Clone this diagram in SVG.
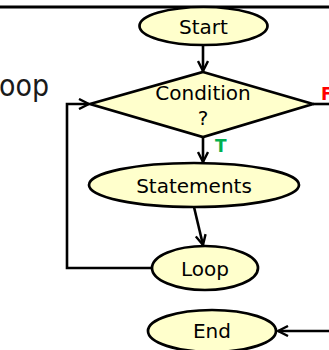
<svg xmlns="http://www.w3.org/2000/svg" width="329" height="350" viewBox="0 0 329 350">
  <style>
    .node { fill: #FFFFCC; stroke: #000; stroke-width: 2.7; }
    .label { font-family: "DejaVu Sans", "Noto Sans", sans-serif; font-size: 20px; fill: #000; text-anchor: middle; }
    .edge { fill: none; stroke: #000; stroke-width: 2.6; }
    .flag { font-family: "DejaVu Sans", sans-serif; font-size: 17px; font-weight: bold; }
  </style>
  <defs>
    <marker id="arrow" viewBox="0 0 12 12" refX="11" refY="6" markerWidth="12" markerHeight="12" markerUnits="userSpaceOnUse" orient="auto">
      <path d="M1,1 L11,6 L1,11" fill="none" stroke="#000" stroke-width="2.4"/>
    </marker>
  </defs>

  <rect width="329" height="350" fill="#fff"/>

  <!-- header rule and title -->
  <line x1="0" y1="7" x2="329" y2="7" stroke="#000" stroke-width="3"/>
  <text x="-1" y="96" font-family="'DejaVu Sans', Verdana, sans-serif" font-size="30" fill="#1a1a1a" textLength="50" lengthAdjust="spacingAndGlyphs">oop</text>

  <g id="connectors">
    <line class="edge" x1="203" y1="45" x2="203" y2="71" marker-end="url(#arrow)"/>
    <line class="edge" x1="203" y1="137" x2="203" y2="162" marker-end="url(#arrow)"/>
    <line class="edge" x1="194" y1="207" x2="203" y2="245" marker-end="url(#arrow)"/>
    <polyline class="edge" points="152,268 67,268 67,104 89,104" marker-end="url(#arrow)"/>
    <line class="edge" x1="313" y1="104" x2="329" y2="104"/>
    <line class="edge" x1="329" y1="331" x2="278" y2="331" marker-end="url(#arrow)"/>
    <text class="flag" x="215" y="152" fill="#00B050">T</text>
    <text class="flag" x="321" y="100" fill="#FF0000">F</text>
  </g>

  <g id="start">
    <ellipse class="node" cx="203.5" cy="26" rx="64" ry="19"/>
    <text class="label" x="203.5" y="34">Start</text>
  </g>

  <g id="condition">
    <polygon class="node" points="203,72 313,104 203,137 90,104"/>
    <text class="label" x="203" y="100">Condition</text>
    <text class="label" x="203" y="125">?</text>
  </g>

  <g id="statements">
    <ellipse class="node" cx="194" cy="185" rx="105" ry="22"/>
    <text class="label" x="194" y="193">Statements</text>
  </g>

  <g id="loop">
    <ellipse class="node" cx="205" cy="268" rx="53" ry="22"/>
    <text class="label" x="205" y="276">Loop</text>
  </g>

  <g id="end">
    <ellipse class="node" cx="212" cy="331" rx="64" ry="21"/>
    <text class="label" x="212" y="338">End</text>
  </g>
</svg>
